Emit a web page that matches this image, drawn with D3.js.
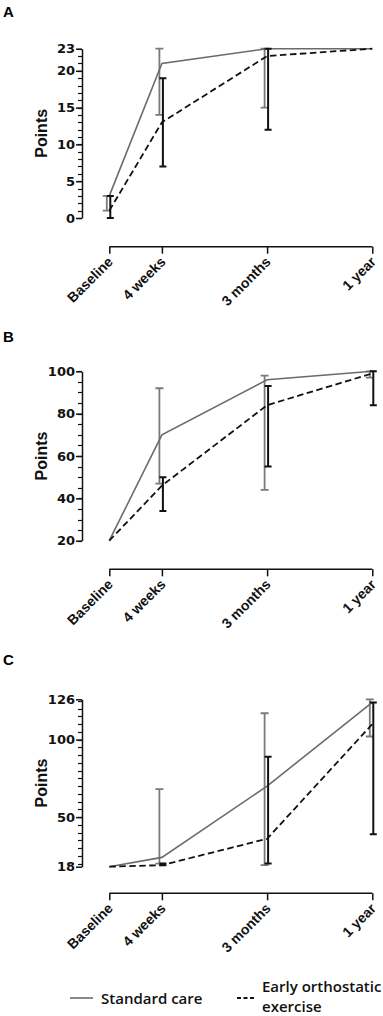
<!DOCTYPE html>
<html>
<head>
<meta charset="utf-8">
<script src="https://cdn.jsdelivr.net/npm/d3@7"></script>
<style>
  body { margin: 0; background: #fff; }
  svg { display: block; }
</style>
</head>
<body>
<svg id="chart" width="383" height="1016"></svg>
<script>
// Time points (x categories) and their spacing on the axis
const timepoints = ["Baseline", "4 weeks", "3 months", "1 year"];
const timePos = [0, 0.5, 1.5, 2.5];

// Panel A
const aStandard = [3, 21, 23, 23];
const aStandardLow = [1, 14, 15, null];
const aStandardHigh = [3, 23, 23, null];
const aEarly = [1, 13, 22, 23];
const aEarlyLow = [0, 7, 12, null];
const aEarlyHigh = [3, 19, 23, null];
const aTicks = [0, 5, 10, 15, 20, 23];

// Panel B
const bStandard = [20, 70, 96, 100];
const bStandardLow = [null, 47, 44, 97];
const bStandardHigh = [null, 92, 98, 100];
const bEarly = [20, 46, 84, 99];
const bEarlyLow = [null, 34, 55, 84];
const bEarlyHigh = [null, 50, 93, 100];
const bTicks = [20, 40, 60, 80, 100];

// Panel C
const cStandard = [18, 24, 70, 124];
const cStandardLow = [null, 20, 19, 102];
const cStandardHigh = [null, 68, 117, 126];
const cEarly = [18, 19, 36, 110];
const cEarlyLow = [null, 19, 20, 39];
const cEarlyHigh = [null, 20, 89, 124];
const cTicks = [18, 50, 100, 126];

const svg = d3.select("#chart");

const grey = "#6b6b6b";
const greyBar = "#7a7a7a";
const ink = "#111";

const x = d3.scaleLinear().domain([0, 2.5]).range([109.3, 372.3]);

const panels = [
  { letter: "A", letterY: 17, top: 48.7, bottom: 218, axisY: 246.7,
    ticks: aTicks, minor: d3.range(0, 24, 1),
    std: aStandard, stdLo: aStandardLow, stdHi: aStandardHigh,
    early: aEarly, earlyLo: aEarlyLow, earlyHi: aEarlyHigh },
  { letter: "B", letterY: 342, top: 371.3, bottom: 540.7, axisY: 569.3,
    ticks: bTicks, minor: d3.range(20, 101, 5),
    std: bStandard, stdLo: bStandardLow, stdHi: bStandardHigh,
    early: bEarly, earlyLo: bEarlyLow, earlyHi: bEarlyHigh },
  { letter: "C", letterY: 665, top: 699.3, bottom: 866.7, axisY: 893.3,
    ticks: cTicks, minor: d3.range(20, 126, 5),
    std: cStandard, stdLo: cStandardLow, stdHi: cStandardHigh,
    early: cEarly, earlyLo: cEarlyLow, earlyHi: cEarlyHigh }
];

panels.forEach(p => {
  const ticks = p.ticks;
  const y = d3.scaleLinear()
    .domain([ticks[0], ticks[ticks.length - 1]])
    .range([p.bottom, p.top]);

  const g = svg.append("g");

  // panel letter
  g.append("text")
    .attr("x", 3)
    .attr("y", p.letterY)
    .attr("font-family", "Liberation Sans, Arial, sans-serif")
    .attr("font-weight", "bold")
    .attr("font-size", "15px")
    .text(p.letter);

  // minor y ticks
  g.append("g")
    .selectAll("line.minor")
    .data(p.minor)
    .enter()
    .append("line")
      .attr("class", "minor")
      .attr("x1", 78)
      .attr("x2", 82)
      .attr("y1", d => Math.round(y(d)) + 0.5)
      .attr("y2", d => Math.round(y(d)) + 0.5)
      .attr("stroke", ink)
      .attr("stroke-width", 1.2);

  // major y axis
  const yAx = g.append("g")
    .attr("transform", "translate(82,0)")
    .call(d3.axisLeft(y).tickValues(ticks).tickSize(6).tickSizeOuter(0).tickPadding(1));
  yAx.select(".domain").attr("stroke", ink).attr("stroke-width", 1.5);
  yAx.selectAll("line").attr("stroke", ink).attr("stroke-width", 1.5);
  yAx.selectAll("text")
    .attr("font-family", "DejaVu Sans, sans-serif")
    .attr("font-weight", "bold")
    .attr("font-size", "13px")
    .attr("fill", ink);

  // y label
  g.append("text")
    .attr("transform", `translate(47,${(p.top + p.bottom) / 2}) rotate(-90)`)
    .attr("text-anchor", "middle")
    .attr("font-family", "Liberation Sans, Arial, sans-serif")
    .attr("font-weight", "bold")
    .attr("font-size", "16px")
    .attr("fill", ink)
    .text("Points");

  // x axis
  const xAx = g.append("g")
    .attr("transform", `translate(0,${p.axisY})`)
    .call(d3.axisBottom(x).tickValues(timePos).tickSize(7).tickSizeOuter(0)
      .tickFormat((d, i) => timepoints[i]));
  xAx.select(".domain").attr("stroke", ink).attr("stroke-width", 1.5)
    .attr("d", `M${x(0)},0H${x(2.5)}`);
  xAx.selectAll("line").attr("stroke", ink).attr("stroke-width", 1.5);
  xAx.selectAll("text")
    .attr("font-family", "Liberation Sans, Arial, sans-serif")
    .attr("font-weight", "bold")
    .attr("font-size", "14px")
    .attr("fill", ink)
    .attr("text-anchor", "end")
    .attr("y", 0)
    .attr("dy", "0")
    .attr("transform", "translate(4,16) rotate(-45)");

  // error bars
  const bars = (lo, hi, dx, color, w, cap) => {
    const data = timePos.map((t, i) => ({ t, lo: lo[i], hi: hi[i] }))
      .filter(d => d.lo != null);
    const bg = g.append("g").attr("stroke", color).attr("stroke-width", w).attr("fill", "none");
    bg.selectAll("path.bar")
      .data(data)
      .enter()
      .append("path")
      .attr("d", d => {
        const cx = x(d.t) + dx;
        return `M${cx},${y(d.lo)}V${y(d.hi)}` +
          `M${cx - cap},${y(d.lo)}H${cx + cap}` +
          `M${cx - cap},${y(d.hi)}H${cx + cap}`;
      });
  };

  // lines
  const line = d3.line().x((d, i) => x(timePos[i])).y(d => y(d));

  bars(p.stdLo, p.stdHi, -2.5, greyBar, 1.8, 4);
  g.append("path")
    .datum(p.std)
    .attr("d", line)
    .attr("fill", "none")
    .attr("stroke", grey)
    .attr("stroke-width", 1.6);

  bars(p.earlyLo, p.earlyHi, 1, ink, 2, 3.5);
  g.append("path")
    .datum(p.early)
    .attr("d", line)
    .attr("fill", "none")
    .attr("stroke", ink)
    .attr("stroke-width", 1.8)
    .attr("stroke-dasharray", "6.5,3.5");
});

// legend
const leg = svg.append("g")
  .attr("font-family", "Open Sans, sans-serif")
  .attr("font-weight", 600)
  .attr("font-size", "15px")
  .attr("fill", "#111");

leg.append("line")
  .attr("x1", 70).attr("x2", 93).attr("y1", 998).attr("y2", 998)
  .attr("stroke", grey).attr("stroke-width", 1.6);
leg.append("text").attr("x", 101).attr("y", 1003.5).text("Standard care");

leg.append("line")
  .attr("x1", 237).attr("x2", 254).attr("y1", 998).attr("y2", 998)
  .attr("stroke", ink).attr("stroke-width", 1.8).attr("stroke-dasharray", "4,2.5");
leg.append("text").attr("x", 262).attr("y", 992).text("Early orthostatic");
leg.append("text").attr("x", 262).attr("y", 1012).text("exercise");
</script>
</body>
</html>
